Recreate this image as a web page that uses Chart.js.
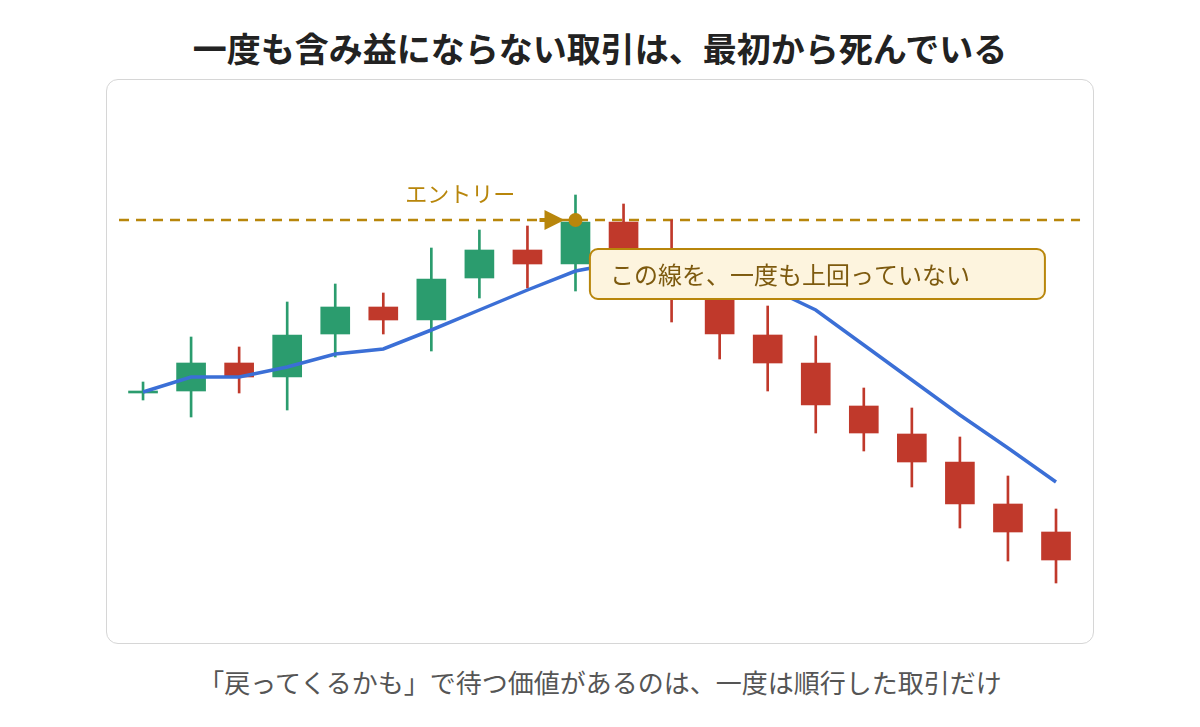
<!DOCTYPE html>
<html><head><meta charset="utf-8">
<script src="https://cdn.jsdelivr.net/npm/chart.js@4"></script>
<style>
body{margin:0;width:1200px;height:727px;background:#fff;font-family:"Noto Sans CJK JP",sans-serif;position:relative;overflow:hidden}
#t{position:absolute;top:24px;left:0;width:1200px;text-align:center;font-size:34px;line-height:48px;font-weight:bold;color:#222}
#s{position:absolute;top:664px;left:0;width:1200px;text-align:center;font-size:26px;line-height:36px;color:#555}
#box{position:absolute;left:106px;top:79px;width:986px;height:563px;border:1px solid #d6d6d6;border-radius:12px}
#wrap{position:absolute;left:107px;top:80px;width:986px;height:563px}
</style></head><body>
<div id="t">一度も含み益にならない取引は、最初から死んでいる</div>
<div id="box"></div>
<div id="wrap"><canvas id="c"></canvas></div>
<div id="s">「戻ってくるかも」で待つ価値があるのは、一度は順行した取引だけ</div>
<script>
const opens  = [308,309,337,323,366,393,380,422,450,436,478,443,408,365,337,294,266,238,196,168];
const closes = [308,337,323,365,393,380,421,450,436,478,443,410,366,337,295,267,238,196,168,140];
const highs  = [318,363,353,398,416,407,452,470,474,505,496,480,420,394,364,312,292,263,224,191];
const lows   = [300,283,307,290,343,366,349,402,412,409,432,378,341,309,267,249,213,172,139,117];
const maLine = [308,323,323,333,346,351,370,390,410,429,438,435,430,413,390,355,320,285,252,218];
const entryLevel = 480;
const entryIndex = 9;
const labels = ["エントリー","この線を、一度も上回っていない"];
const green="#2b9c6e", red="#c0392b", gold="#b8860b";
const idx = opens.map((_,i)=>i);
const col = idx.map(i=>closes[i]>=opens[i]?green:red);
const body = idx.map(i=>({x:i,y:opens[i]===closes[i]?[opens[i]-1,opens[i]+1]:[opens[i],closes[i]]}));
const wick = idx.map(i=>({x:i,y:[lows[i],highs[i]]}));
const overlay={id:'ov',afterDatasetsDraw(ch){
  const c=ch.ctx,xs=ch.scales.x,ys=ch.scales.y;
  const ey=ys.getPixelForValue(entryLevel), ex=xs.getPixelForValue(entryIndex);
  c.save();
  c.fillStyle=gold;c.strokeStyle=gold;c.lineWidth=4;
  c.beginPath();c.moveTo(ex-36,ey);c.lineTo(ex-25,ey);c.stroke();
  c.beginPath();c.moveTo(ex-31,ey-10);c.lineTo(ex-11,ey);c.lineTo(ex-31,ey+10);c.closePath();c.fill();
  c.beginPath();c.arc(ex,ey,7,0,Math.PI*2);c.fill();
  c.font='22px "Noto Sans CJK JP"';c.textAlign='center';c.textBaseline='middle';
  c.fillText(labels[0],xs.getPixelForValue(6.6),ey-26);
  const bx=xs.getPixelForValue(9.3), by=ey+29, bw=455, bh=50;
  c.beginPath();c.roundRect(bx,by,bw,bh,8);c.fillStyle="#fdf4de";c.fill();
  c.lineWidth=2;c.strokeStyle=gold;c.stroke();
  c.fillStyle="#7d5a0f";c.textAlign='left';c.font='24px "Noto Sans CJK JP"';
  c.fillText(labels[1],bx+20,by+bh/2+1);
  c.restore();
}};
new Chart(document.getElementById('c'),{
  data:{datasets:[
    {type:'line',data:[{x:-0.5,y:entryLevel},{x:19.5,y:entryLevel}],borderColor:gold,borderWidth:2.5,borderDash:[10,7],pointRadius:0,order:4},
    {type:'bar',data:wick,backgroundColor:col,barThickness:2,grouped:false,order:3},
    {type:'bar',data:body,backgroundColor:col,barThickness:29,grouped:false,order:2},
    {type:'line',data:idx.map(i=>({x:i,y:maLine[i]})),borderColor:"#3b6fd6",borderWidth:3.5,pointRadius:0,tension:0,order:1}
  ]},
  plugins:[overlay],
  options:{responsive:true,maintainAspectRatio:false,animation:false,
    layout:{padding:0},
    plugins:{legend:{display:false},tooltip:{enabled:false}},
    scales:{x:{type:'linear',offset:false,min:-0.75,max:19.77,display:false},y:{min:57,max:620,display:false}}}
});
</script></body></html>
